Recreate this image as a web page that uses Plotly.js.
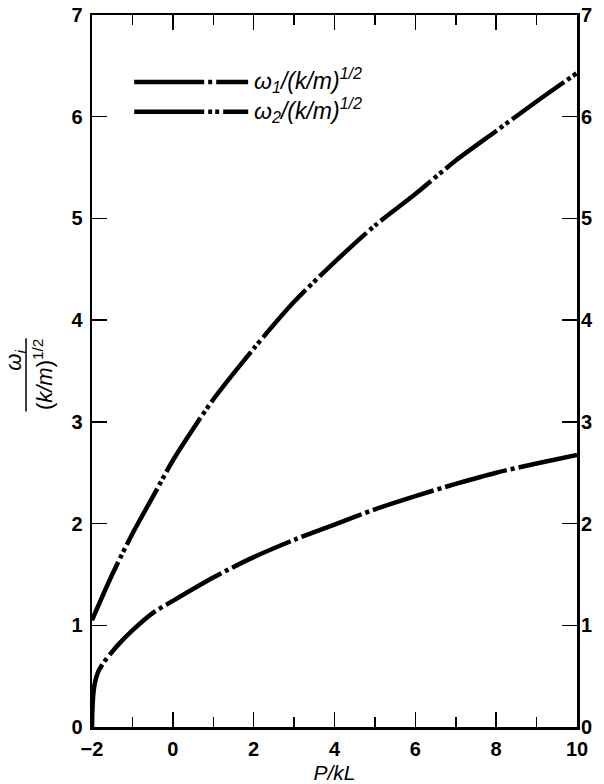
<!DOCTYPE html>
<html>
<head>
<meta charset="utf-8">
<script src="https://cdn.plot.ly/plotly-3.0.1.min.js"></script>
<style>html,body{margin:0;padding:0;background:#fff;}#chart{width:604px;height:784px;}</style>
</head>
<body>
<div id="chart"></div>
<script>
// Lower curve (dash-dot)  -> omega_1/(k/m)^1/2
const pLow = [-2, -1.99, -1.97, -1.93, -1.85, -1.7, -1.5, -1.35, -1, -0.5, 0, 1, 2, 3, 4, 5, 6, 7, 8, 9, 10];
const wLow = [0, 0.16, 0.31, 0.43, 0.54, 0.64, 0.74, 0.81, 0.95, 1.12, 1.24, 1.47, 1.67, 1.84, 1.99, 2.14, 2.27, 2.39, 2.50, 2.59, 2.675];
// Upper curve (dash-dot-dot) -> omega_2/(k/m)^1/2
const pHigh = [-2, -1.5, -1, -0.5, 0, 0.5, 1, 2, 3, 4, 5, 6, 7, 8, 9, 10];
const wHigh = [1.05, 1.5, 1.9, 2.26, 2.62, 2.93, 3.22, 3.72, 4.18, 4.57, 4.93, 5.24, 5.57, 5.86, 6.15, 6.43];
const xTickVals = [-2, 0, 2, 4, 6, 8, 10];
const yTickVals = [0, 1, 2, 3, 4, 5, 6, 7];
const seriesNames = ['ω<sub>1</sub>/(k/m)<sup>1/2</sup>', 'ω<sub>2</sub>/(k/m)<sup>1/2</sup>'];

const dashA = '64px,4px,4px,4px';
const dashB = '64px,4px,4px,3px,4px,4px';
const FAM = 'Liberation Sans, Arial, sans-serif';
function tf() { return {family: FAM, size: 20, color: '#000', weight: 'bold'}; }

const traces = [
  {x: pLow, y: wLow, type: 'scatter', mode: 'lines', name: seriesNames[0], showlegend: false, yaxis: 'y',
   line: {color: '#000', width: 4.5, dash: dashA, shape: 'spline', smoothing: 0.8}},
  {x: pHigh, y: wHigh, type: 'scatter', mode: 'lines', name: seriesNames[1], showlegend: false, yaxis: 'y2',
   line: {color: '#000', width: 4.5, dash: dashB, shape: 'spline', smoothing: 0.8}}
];

const layout = {
  width: 604, height: 784,
  margin: {l: 92, r: 27, t: 15, b: 57},
  paper_bgcolor: '#fff', plot_bgcolor: '#fff',
  showlegend: false,
  xaxis: {
    range: [-2, 10], tickvals: xTickVals, ticks: 'inside', ticklen: 15, tickwidth: 1.5, tickcolor: '#000',
    showline: true, linewidth: 2.5, linecolor: '#000', mirror: 'ticks', showgrid: false, zeroline: false,
    tickfont: tf(), ticklabelstandoff: 2,
    minor: {dtick: 1, tick0: -1, ticks: 'inside', ticklen: 10, tickwidth: 1.5, tickcolor: '#000', showgrid: false},
    title: {text: '<i>P/kL</i>', font: {family: FAM, size: 21, color: '#000'}, standoff: 10}
  },
  yaxis: {
    range: [0, 7], tickvals: yTickVals, ticks: 'inside', ticklen: 15, tickwidth: 1.5, tickcolor: '#000',
    showline: true, linewidth: 2.5, linecolor: '#000', mirror: 'ticks', showgrid: false, zeroline: false,
    tickfont: tf(), ticklabelstandoff: 3
  },
  yaxis2: {
    range: [0, 7], tickvals: yTickVals, overlaying: 'y', side: 'right', anchor: 'x',
    ticks: '', showline: false, showgrid: false, zeroline: false, tickfont: tf(), ticklabelstandoff: 3
  },
  shapes: [
    {type: 'line', xref: 'paper', yref: 'paper', x0: 0.087, x1: 0.322, y0: 0.906, y1: 0.906,
     line: {color: '#000', width: 4.5, dash: '70px,4px,4px,4px'}},
    {type: 'line', xref: 'paper', yref: 'paper', x0: 0.087, x1: 0.322, y0: 0.864, y1: 0.864,
     line: {color: '#000', width: 4.5, dash: '70px,4px,4px,3px,4px,4px'}},
    {type: 'line', xref: 'paper', yref: 'paper', x0: -0.136, x1: -0.136, y0: 0.443, y1: 0.546,
     line: {color: '#000', width: 1.5}}
  ],
  annotations: [
    {xref: 'paper', yref: 'paper', x: 0.33, y: 0.909, xanchor: 'left', yanchor: 'middle', showarrow: false,
     text: '<i>' + seriesNames[0] + '</i>', font: {family: FAM, size: 23, color: '#000'}},
    {xref: 'paper', yref: 'paper', x: 0.33, y: 0.867, xanchor: 'left', yanchor: 'middle', showarrow: false,
     text: '<i>' + seriesNames[1] + '</i>', font: {family: FAM, size: 23, color: '#000'}},
    {xref: 'paper', yref: 'paper', x: -0.158, y: 0.515, xanchor: 'center', yanchor: 'middle', showarrow: false, textangle: -90,
     text: '<i>ω<sub>i</sub></i>', font: {family: FAM, size: 22, color: '#000'}},
    {xref: 'paper', yref: 'paper', x: -0.102, y: 0.495, xanchor: 'center', yanchor: 'middle', showarrow: false, textangle: -90,
     text: '(<i>k/m</i>)<sup>1/2</sup>', font: {family: FAM, size: 22, color: '#000'}}
  ]
};

Plotly.newPlot('chart', traces, layout, {staticPlot: true, displayModeBar: false});
</script>
</body>
</html>
